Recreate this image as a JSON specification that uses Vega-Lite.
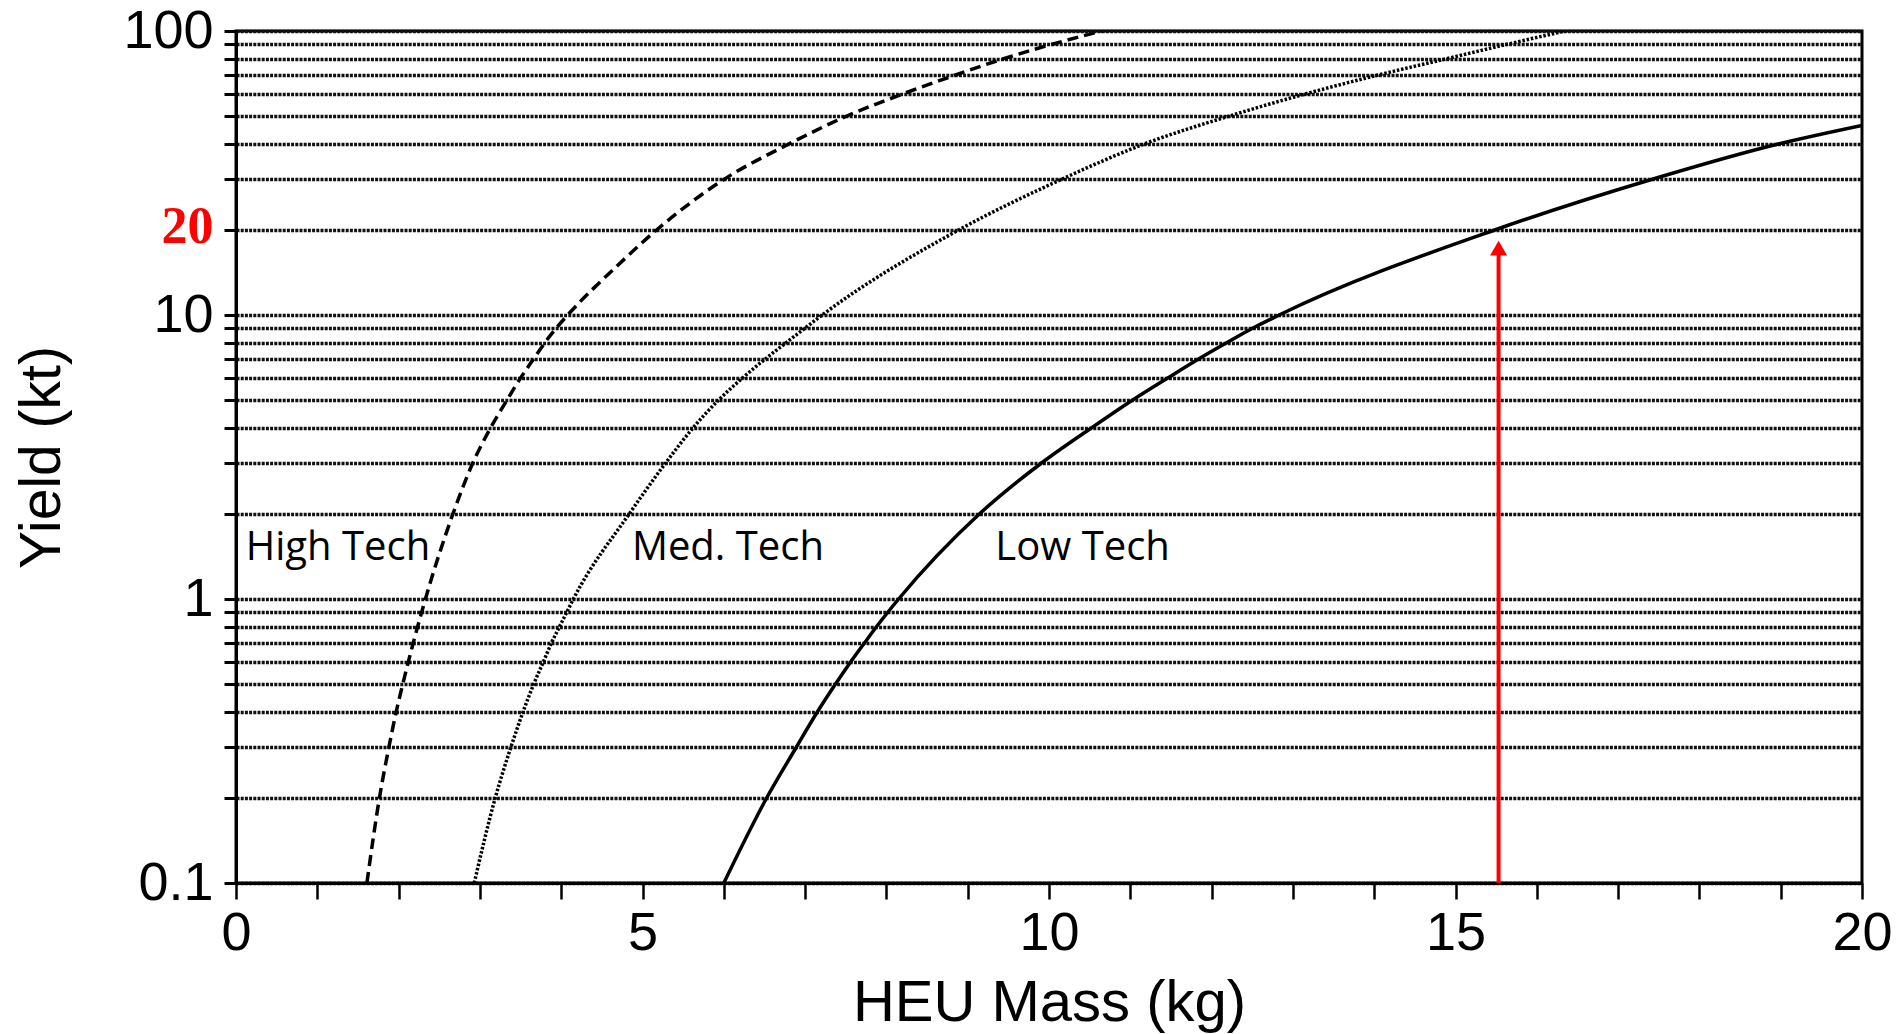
{
  "$schema": "https://vega.github.io/schema/vega-lite/v6.json",
  "width": 1626,
  "height": 852,
  "autosize": {"type": "none"},
  "padding": {"left": 236, "top": 31, "right": 42, "bottom": 151},
  "background": "white",
  "config": {"view": {"stroke": "black", "strokeWidth": 3}},
  "datasets": {
    "curves": [
      {"s": "high", "x": 1.61, "y": 0.1}, {"s": "high", "x": 1.765, "y": 0.2}, {"s": "high", "x": 1.88, "y": 0.3},
      {"s": "high", "x": 1.97, "y": 0.4}, {"s": "high", "x": 2.05, "y": 0.5}, {"s": "high", "x": 2.18, "y": 0.7},
      {"s": "high", "x": 2.33, "y": 1}, {"s": "high", "x": 2.67, "y": 2}, {"s": "high", "x": 2.91, "y": 3},
      {"s": "high", "x": 3.13, "y": 4}, {"s": "high", "x": 3.33, "y": 5}, {"s": "high", "x": 3.5, "y": 6},
      {"s": "high", "x": 3.66, "y": 7}, {"s": "high", "x": 3.8, "y": 8}, {"s": "high", "x": 3.94, "y": 9},
      {"s": "high", "x": 4.08, "y": 10}, {"s": "high", "x": 4.7, "y": 15}, {"s": "high", "x": 5.18, "y": 20},
      {"s": "high", "x": 6.0, "y": 30},
      {"s": "high", "x": 6.8, "y": 40}, {"s": "high", "x": 7.5, "y": 50}, {"s": "high", "x": 8.2, "y": 60},
      {"s": "high", "x": 8.85, "y": 70}, {"s": "high", "x": 9.45, "y": 80}, {"s": "high", "x": 10.05, "y": 90},
      {"s": "high", "x": 10.65, "y": 100},
      {"s": "med", "x": 2.93, "y": 0.1}, {"s": "med", "x": 3.19, "y": 0.2}, {"s": "med", "x": 3.38, "y": 0.3},
      {"s": "med", "x": 3.53, "y": 0.4}, {"s": "med", "x": 3.66, "y": 0.5}, {"s": "med", "x": 3.78, "y": 0.6},
      {"s": "med", "x": 3.88, "y": 0.7}, {"s": "med", "x": 3.98, "y": 0.8}, {"s": "med", "x": 4.07, "y": 0.9},
      {"s": "med", "x": 4.15, "y": 1}, {"s": "med", "x": 4.84, "y": 2},
      {"s": "med", "x": 5.28, "y": 3}, {"s": "med", "x": 5.62, "y": 4}, {"s": "med", "x": 5.93, "y": 5},
      {"s": "med", "x": 6.23, "y": 6}, {"s": "med", "x": 6.51, "y": 7}, {"s": "med", "x": 6.77, "y": 8},
      {"s": "med", "x": 7.0, "y": 9}, {"s": "med", "x": 7.21, "y": 10}, {"s": "med", "x": 8.9, "y": 20},
      {"s": "med", "x": 10.15, "y": 30}, {"s": "med", "x": 11.17, "y": 40}, {"s": "med", "x": 12.2, "y": 50},
      {"s": "med", "x": 13.15, "y": 60}, {"s": "med", "x": 14.05, "y": 70}, {"s": "med", "x": 14.9, "y": 80},
      {"s": "med", "x": 15.65, "y": 90}, {"s": "med", "x": 16.35, "y": 100},
      {"s": "low", "x": 6.0, "y": 0.1}, {"s": "low", "x": 6.53, "y": 0.2}, {"s": "low", "x": 6.89, "y": 0.3},
      {"s": "low", "x": 7.15, "y": 0.4}, {"s": "low", "x": 7.37, "y": 0.5}, {"s": "low", "x": 7.56, "y": 0.6},
      {"s": "low", "x": 7.73, "y": 0.7}, {"s": "low", "x": 7.88, "y": 0.8}, {"s": "low", "x": 8.02, "y": 0.9},
      {"s": "low", "x": 8.15, "y": 1}, {"s": "low", "x": 9.15, "y": 2}, {"s": "low", "x": 9.9, "y": 3},
      {"s": "low", "x": 10.52, "y": 4}, {"s": "low", "x": 11.02, "y": 5}, {"s": "low", "x": 11.46, "y": 6},
      {"s": "low", "x": 11.84, "y": 7}, {"s": "low", "x": 12.19, "y": 8}, {"s": "low", "x": 12.51, "y": 9},
      {"s": "low", "x": 12.83, "y": 10}, {"s": "low", "x": 15.5, "y": 20}, {"s": "low", "x": 17.41, "y": 30},
      {"s": "low", "x": 18.97, "y": 40}, {"s": "low", "x": 20, "y": 46.5}
    ],
    "labels": [
      {"label": "High Tech", "x": 0.12, "y": 1.37},
      {"label": "Med. Tech", "x": 4.87, "y": 1.37},
      {"label": "Low Tech", "x": 9.34, "y": 1.37}
    ],
    "arrow": [{"x": 15.53, "y0": 0.1, "y1": 17.2}]
  },
  "layer": [
    {
      "data": {"name": "curves"},
      "transform": [{"filter": "datum.s == 'high'"}],
      "mark": {"type": "line", "color": "black", "strokeWidth": 3.5, "strokeDash": [11, 6], "interpolate": "monotone", "clip": true},
      "encoding": {
        "x": {
          "field": "x", "type": "quantitative",
          "scale": {"domain": [0, 20], "nice": false, "zero": false},
          "axis": {
            "title": "HEU Mass (kg)",
            "values": [0,1,2,3,4,5,6,7,8,9,10,11,12,13,14,15,16,17,18,19,20],
            "labelExpr": "datum.value % 5 == 0 ? toString(datum.value) : ''",
            "grid": false,
            "domainColor": "black", "domainWidth": 3,
            "tickColor": "black", "tickWidth": 2.5, "tickSize": 16,
            "labelFont": "Liberation Sans", "labelFontSize": 54, "labelColor": "black",
            "labelPadding": 7, "labelFlush": false, "labelOverlap": false,
            "titleFont": "Liberation Sans", "titleFontSize": 58, "titleFontWeight": "normal", "titleColor": "black",
            "titleBaseline": "alphabetic", "titleY": 137, "titleX": 813, "titleAlign": "center"
          }
        },
        "y": {
          "field": "y", "type": "quantitative",
          "scale": {"type": "log", "domain": [0.1, 100], "nice": false},
          "axis": {
            "title": "Yield (kt)",
            "values": [0.1,0.2,0.3,0.4,0.5,0.6,0.7,0.8,0.9,1,2,3,4,5,6,7,8,9,10,20,30,40,50,60,70,80,90,100],
            "labelExpr": "indexof([0.1, 1, 10, 20, 100], datum.value) >= 0 ? toString(datum.value) : ''",
            "grid": true, "gridColor": "#111111", "gridDash": [3, 1.2], "gridWidth": 3.5,
            "domainColor": "black", "domainWidth": 3,
            "tickColor": "black", "tickWidth": 3, "tickSize": 12,
            "labelPadding": 11, "labelOverlap": false, "labelBaseline": "middle",
            "labelFont": {"condition": {"test": "datum.value == 20", "value": "Liberation Serif"}, "value": "Liberation Sans"},
            "labelFontWeight": {"condition": {"test": "datum.value == 20", "value": "bold"}, "value": "normal"},
            "labelColor": {"condition": {"test": "datum.value == 20", "value": "#ff0000"}, "value": "black"},
            "labelFontSize": {"condition": {"test": "datum.value == 20", "value": 52}, "value": 54},
            "labelOffset": {"condition": {"test": "datum.value == 20", "value": -3}, "value": 0},
            "titleFont": "Liberation Sans", "titleFontSize": 57, "titleFontWeight": "normal", "titleColor": "black",
            "titleAngle": -90, "titleBaseline": "alphabetic", "titleAlign": "center", "titleX": -177, "titleY": 426
          }
        }
      }
    },
    {
      "data": {"name": "curves"},
      "transform": [{"filter": "datum.s == 'med'"}],
      "mark": {"type": "line", "color": "black", "strokeWidth": 3.5, "strokeDash": [2.5, 1.8], "interpolate": "monotone", "clip": true},
      "encoding": {
        "x": {"field": "x", "type": "quantitative"},
        "y": {"field": "y", "type": "quantitative"}
      }
    },
    {
      "data": {"name": "curves"},
      "transform": [{"filter": "datum.s == 'low'"}],
      "mark": {"type": "line", "color": "black", "strokeWidth": 3.5, "interpolate": "monotone", "clip": true},
      "encoding": {
        "x": {"field": "x", "type": "quantitative"},
        "y": {"field": "y", "type": "quantitative"}
      }
    },
    {
      "data": {"name": "labels"},
      "mark": {"type": "text", "font": "Open Sans", "fontSize": 40, "align": "left", "baseline": "alphabetic", "color": "black"},
      "encoding": {
        "x": {"field": "x", "type": "quantitative"},
        "y": {"field": "y", "type": "quantitative"},
        "text": {"field": "label"}
      }
    },
    {
      "data": {"name": "arrow"},
      "mark": {"type": "rule", "color": "#ff0000", "strokeWidth": 4},
      "encoding": {
        "x": {"field": "x", "type": "quantitative"},
        "y": {"field": "y0", "type": "quantitative"},
        "y2": {"field": "y1"}
      }
    },
    {
      "data": {"name": "arrow"},
      "mark": {"type": "point", "shape": "triangle-up", "filled": true, "color": "#ff0000", "size": 290, "opacity": 1},
      "encoding": {
        "x": {"field": "x", "type": "quantitative"},
        "y": {"field": "y1", "type": "quantitative"}
      }
    }
  ]
}
